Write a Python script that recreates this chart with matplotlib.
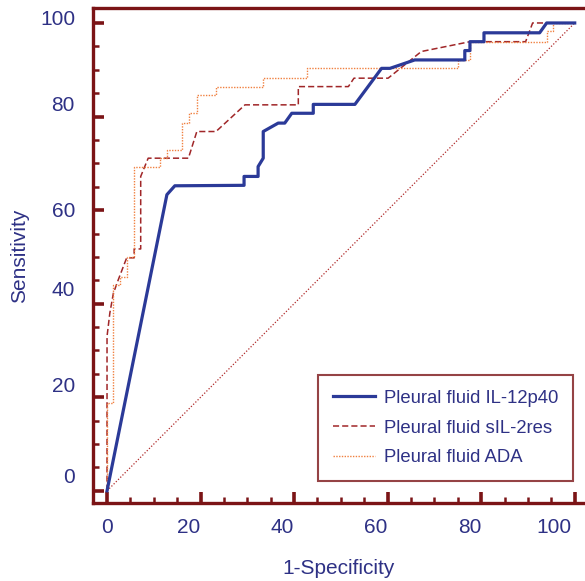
import matplotlib
matplotlib.use("Agg")
import matplotlib.pyplot as plt
from matplotlib.ticker import MultipleLocator
from matplotlib.transforms import ScaledTranslation

plt.rcParams['font.family'] = ['Liberation Sans', 'DejaVu Sans']

# ROC curves, (1-specificity, sensitivity) in percent
il12_x = [0, 12.8, 14.5, 29.3, 29.3, 32.3, 32.3, 33.4, 33.4, 36.6, 38.0, 39.5, 44.1, 44.1,
          53.0, 58.7, 60.5, 65.8, 76.5, 76.5, 77.6, 77.6, 80.6, 80.6, 92.5, 94.0, 100]
il12_y = [0, 63.3, 65.2, 65.3, 67.2, 67.2, 69.3, 71.1, 76.8, 78.6, 78.6, 80.7, 80.7, 82.6,
          82.6, 90.3, 90.3, 92.1, 92.1, 94.1, 94.1, 96.0, 96.0, 97.9, 97.9, 100, 100]

sil2_x = [0, 0, 0.6, 1.35, 2.4, 4.2, 5.8, 5.8, 7.2, 7.2, 8.8, 17.4, 19.2, 23.3, 29.5, 40.9,
          40.9, 51.6, 52.8, 60.1, 67.2, 77.6, 89.5, 91.0, 100]
sil2_y = [0, 33.0, 38.0, 42.2, 45.1, 49.8, 49.8, 51.7, 51.7, 67.2, 71.1, 71.1, 76.8, 76.8,
          82.5, 82.5, 86.4, 86.4, 88.2, 88.2, 93.9, 96.0, 96.0, 100, 100]

ada_x = [0, 0, 1.35, 1.35, 2.8, 2.8, 4.2, 4.2, 5.8, 5.8, 11.3, 11.3, 12.8, 12.8, 16.0, 16.0,
         17.5, 17.5, 19.2, 19.2, 23.3, 23.3, 33.4, 33.4, 42.7, 42.7, 75.1, 75.1, 77.6, 77.6,
         94.0, 94.0, 95.4, 95.4, 100]
ada_y = [0, 18.8, 18.8, 44.0, 44.0, 45.8, 45.8, 49.9, 49.9, 69.3, 69.3, 71.1, 71.1, 72.9,
         72.9, 78.6, 78.6, 80.7, 80.7, 84.6, 84.6, 86.4, 86.4, 88.3, 88.3, 90.3, 90.3, 92.1,
         92.1, 96.0, 96.0, 98.2, 98.2, 100, 100]

ref_x = [0, 100]
ref_y = [0, 100]

labels = ["Pleural fluid IL-12p40", "Pleural fluid sIL-2res", "Pleural fluid ADA"]
tick_vals = [0, 20, 40, 60, 80, 100]

# the original's tick labels sit a little off their ticks (pixels)
ylab_nudge = [13, 11, 13, -1, 11, 3]
xlab_nudge = [0, 0, 0, 0, 0, -3]

axis_red = "#7b1416"
text_blue = "#2e3185"

fig = plt.figure(figsize=(5.85, 5.81), dpi=100)
ax = fig.add_axes([93 / 585, 78 / 581, 492 / 585, 495 / 581])

ax.plot(il12_x, il12_y, color="#2b3a98", lw=2.3, label=labels[0], zorder=4)
ax.plot(sil2_x, sil2_y, color="#a02628", lw=1.1, ls=(0, (4, 2)), label=labels[1], zorder=3)
ax.plot(ada_x, ada_y, color="#f08040", lw=1.0, ls=(0, (1, 1)), label=labels[2], zorder=3)
ax.plot(ref_x, ref_y, color="#b02a2a", lw=0.9, ls=(0, (1, 1.5)), zorder=2)

ax.set_xlim(-3.0, 102.2)
ax.set_ylim(-2.6, 103.2)

ax.xaxis.set_major_locator(MultipleLocator(20))
ax.xaxis.set_minor_locator(MultipleLocator(5))
ax.yaxis.set_major_locator(MultipleLocator(20))
ax.yaxis.set_minor_locator(MultipleLocator(5))

ax.spines['right'].set_visible(False)
for s in ['left', 'bottom', 'top']:
    ax.spines[s].set_color(axis_red)
    ax.spines[s].set_linewidth(2.4)

ax.tick_params(which='major', direction='in', length=8, width=2.6, color=axis_red)
ax.tick_params(which='minor', direction='in', length=4.5, width=1.8, color=axis_red)
ax.tick_params(top=False, right=False, labelleft=False, labelbottom=False, which='both')

# tick labels drawn by hand so they can keep the original's offsets
for v, dy in zip(tick_vals, ylab_nudge):
    tr = ax.get_yaxis_transform() + ScaledTranslation(0, dy / 100, fig.dpi_scale_trans)
    ax.text(-18 / 492, v, str(v), transform=tr, ha='right', va='center',
            fontsize=15, color=text_blue)
for v, dx in zip(tick_vals, xlab_nudge):
    tr = ax.get_xaxis_transform() + ScaledTranslation(dx / 100, 0, fig.dpi_scale_trans)
    ax.text(v, -24.5 / 495, str(v), transform=tr, ha='right' if v else 'center',
            va='center', fontsize=15, color=text_blue)

ax.set_xlabel("1-Specificity", fontsize=15, color=text_blue, labelpad=40)
ax.set_ylabel("Sensitivity", fontsize=15, color=text_blue, labelpad=46)

leg = ax.legend(loc='lower left', bbox_to_anchor=(0.457, 0.044), fontsize=13.3,
                frameon=True, fancybox=False, edgecolor=axis_red, handlelength=2.3,
                borderpad=0.8, labelspacing=0.7, handletextpad=0.5, borderaxespad=0)
leg.get_frame().set_linewidth(1.5)
for t in leg.get_texts():
    t.set_color(text_blue)

fig.savefig("out.png", dpi=100)
